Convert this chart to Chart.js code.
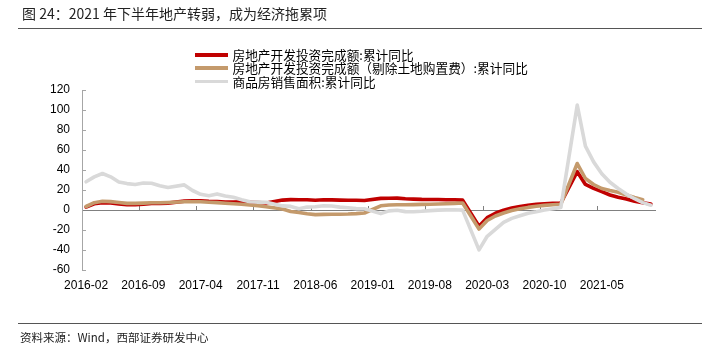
<!DOCTYPE html>
<html>
<head>
<meta charset="utf-8">
<script src="https://cdn.jsdelivr.net/npm/chart.js@4.4.1/dist/chart.umd.min.js"></script>
<style>
  html, body { margin: 0; padding: 0; background: #fff; }
  #wrap { position: relative; width: 711px; height: 357px; overflow: hidden; background: #fff; }
  #c { position: absolute; left: 0; top: 0; }
  .txt { position: absolute; font-family: "Noto Sans CJK SC", "Liberation Sans", sans-serif; white-space: nowrap; }
  #title { left: 22px; top: 3px; font-size: 14px; line-height: 20px; color: #222; }
  .rule { position: absolute; left: 18px; width: 684px; height: 0; border-top: 1.3px solid #555; }
  #source { left: 20px; top: 329px; font-size: 11.5px; line-height: 16px; color: #222; }
  #legend { position: absolute; left: 195px; top: 48px; }
  .lg { position: relative; height: 13.3px; }
  .lg .sw { position: absolute; left: 0; top: 5px; width: 33px; height: 3.6px; }
  .lg .lt { position: absolute; left: 37.5px; top: -2px; font-size: 12.7px; line-height: 17px; color: #000; font-family: "Noto Sans CJK SC", sans-serif; white-space: nowrap; }
</style>
</head>
<body>
<div id="wrap">
  <canvas id="c" width="711" height="357"></canvas>
  <div id="title" class="txt">图 24：2021 年下半年地产转弱，成为经济拖累项</div>
  <div class="rule" style="top:28px"></div>
  <div id="legend"></div>
  <div class="rule" style="top:323px"></div>
  <div id="source" class="txt">资料来源：Wind，西部证券研发中心</div>
</div>
<script>
// Categories (monthly, 2016-02 .. 2021-11)
const months = [
  '2016-02','2016-03','2016-04','2016-05','2016-06','2016-07','2016-08','2016-09','2016-10','2016-11','2016-12',
  '2017-01','2017-02','2017-03','2017-04','2017-05','2017-06','2017-07','2017-08','2017-09','2017-10','2017-11','2017-12',
  '2018-01','2018-02','2018-03','2018-04','2018-05','2018-06','2018-07','2018-08','2018-09','2018-10','2018-11','2018-12',
  '2019-01','2019-02','2019-03','2019-04','2019-05','2019-06','2019-07','2019-08','2019-09','2019-10','2019-11','2019-12',
  '2020-01','2020-02','2020-03','2020-04','2020-05','2020-06','2020-07','2020-08','2020-09','2020-10','2020-11','2020-12',
  '2021-01','2021-02','2021-03','2021-04','2021-05','2021-06','2021-07','2021-08','2021-09','2021-10','2021-11'
];

// 房地产开发投资完成额:累计同比
const invest = [
  3.0, 6.2, 7.2, 7.0, 6.1, 5.3, 5.4, 5.8, 6.6, 6.5, 6.9,
  null, 8.9, 9.1, 9.3, 8.8, 8.5, 7.9, 7.9, 8.1, 7.8, 7.5, 7.0,
  null, 9.9, 10.4, 10.3, 10.2, 9.7, 10.2, 10.1, 9.9, 9.7, 9.7, 9.5,
  null, 11.6, 11.8, 11.9, 11.2, 10.9, 10.6, 10.5, 10.5, 10.3, 10.2, 9.9,
  null, -16.3, -7.7, -3.3, -0.3, 1.9, 3.4, 4.6, 5.6, 6.3, 6.8, 7.0,
  null, 38.3, 25.6, 21.6, 18.3, 15.0, 12.7, 10.9, 8.8, 7.2, 6.0
];

// 房地产开发投资完成额（剔除土地购置费）:累计同比
const investExLand = [
  3.5, 7.3, 8.7, 8.4, 7.5, 6.6, 6.6, 6.9, 7.3, 7.2, 7.5,
  null, 8.3, 8.3, 8.2, 7.8, 7.4, 6.8, 6.3, 5.8, 5.0, 4.2, 3.3,
  null, 1.0, -1.5, -2.5, -3.8, -4.6, -4.4, -4.3, -4.2, -4.0, -3.6, -3.0,
  null, 4.2, 5.0, 5.2, 5.2, 5.4, 5.6, 5.8, 6.0, 6.3, 6.6, 7.0,
  null, -19.0, -10.5, -6.0, -3.0, -0.5, 1.2, 2.6, 3.7, 4.6, 5.3, 5.8,
  null, 46.5, 31.5, 25.5, 21.5, 19.5, 17.7, 15.0, 12.5, 10.3, null
];

// 商品房销售面积:累计同比
const salesArea = [
  28.2, 33.1, 36.5, 33.2, 27.9, 26.4, 25.5, 26.9, 26.8, 24.3, 22.5,
  null, 25.1, 19.5, 15.7, 14.3, 16.1, 14.0, 12.7, 10.3, 8.2, 7.9, 7.7,
  null, 4.1, 3.6, 1.3, 2.9, 3.3, 4.2, 4.0, 2.9, 2.2, 1.4, 1.3,
  null, -3.6, -0.9, -0.3, -1.6, -1.8, -1.3, -0.6, -0.1, 0.1, 0.2, -0.1,
  null, -39.9, -26.3, -19.3, -12.3, -8.4, -5.8, -3.3, -1.8, 0.0, 1.3, 2.6,
  null, 104.9, 63.8, 48.1, 36.3, 27.7, 21.5, 15.9, 11.3, 7.4, 4.8
];

const seriesNames = [
  '房地产开发投资完成额:累计同比',
  '房地产开发投资完成额（剔除土地购置费）:累计同比',
  '商品房销售面积:累计同比'
];
const seriesColors = ['#C00000', '#C49A6C', '#D9D9D9'];
const yMin = -60, yMax = 120, yStep = 20;
const labelEvery = 7;

const numFont = { family: 'Liberation Sans, Arial, sans-serif', size: 12 };

function ds(i, data, order) {
  return {
    label: seriesNames[i], data: data,
    borderColor: seriesColors[i], backgroundColor: seriesColors[i],
    borderWidth: 3.6, pointRadius: 0, pointHoverRadius: 0,
    tension: 0, spanGaps: true, fill: false, order: order,
    borderJoinStyle: 'round', borderCapStyle: 'round',
    xAxisID: 'x', yAxisID: 'y'
  };
}

const chart = new Chart(document.getElementById('c'), {
  type: 'line',
  data: {
    labels: months,
    datasets: [ds(0, invest, 3), ds(1, investExLand, 2), ds(2, salesArea, 1)]
  },
  options: {
    responsive: false,
    animation: false,
    layout: { padding: { top: 90, right: 56, left: 0, bottom: 0 } },
    plugins: { legend: { display: false }, title: { display: false }, tooltip: { enabled: false } },
    scales: {
      x: {
        type: 'category', position: 'bottom', offset: true,
        grid: { display: false, drawTicks: false },
        border: { display: false },
        ticks: {
          autoSkip: false, maxRotation: 0, minRotation: 0, padding: 8, color: '#000', font: numFont,
          callback: (v, i) => (i % labelEvery === 0 ? months[i] : null)
        },
        afterFit: s => { s.height = 87; }
      },
      x0: {
        type: 'category', axis: 'x', position: { y: 0 }, offset: true,
        grid: {
          offset: true, drawOnChartArea: false, drawTicks: true, tickLength: -5, lineWidth: 1,
          color: c => (c.index % labelEvery === 0 ? '#808080' : 'rgba(0,0,0,0)')
        },
        border: { display: true, color: '#808080', width: 1 },
        ticks: { display: false }
      },
      y: {
        min: yMin, max: yMax,
        ticks: { stepSize: yStep, padding: 16, color: '#000', font: numFont },
        grid: { drawOnChartArea: false, drawTicks: true, tickLength: -4, color: '#a6a6a6', lineWidth: 1 },
        border: { display: true, color: '#a6a6a6', width: 1 },
        afterFit: s => { s.width = 82; }
      }
    }
  }
});

// HTML legend built from the chart's datasets (in dataset order)
const lg = document.getElementById('legend');
chart.data.datasets.forEach(d => {
  const row = document.createElement('div');
  row.className = 'lg';
  const sw = document.createElement('span');
  sw.className = 'sw';
  sw.style.background = d.borderColor;
  const t = document.createElement('span');
  t.className = 'lt';
  t.textContent = d.label;
  row.appendChild(sw); row.appendChild(t);
  lg.appendChild(row);
});
</script>
</body>
</html>
